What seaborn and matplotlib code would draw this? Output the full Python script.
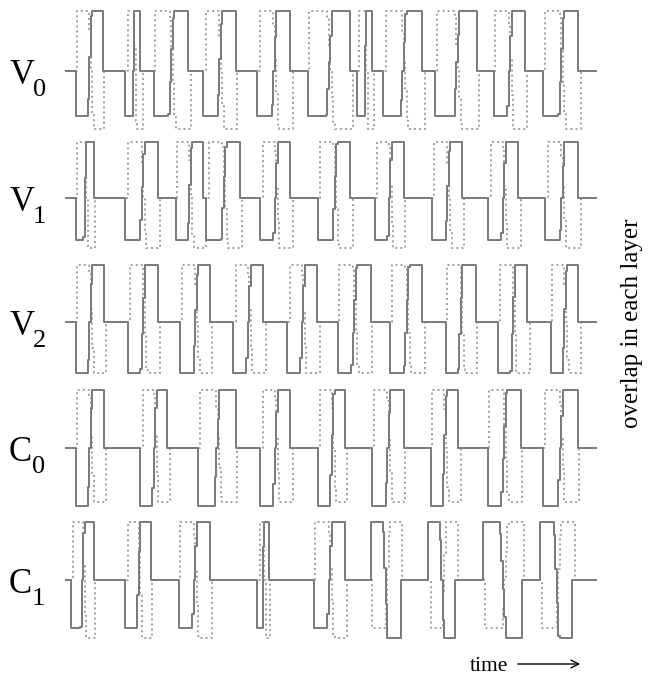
import numpy as np
import pandas as pd
import seaborn as sns
import matplotlib.pyplot as plt

sns.set_theme(style="white")
plt.rcParams["font.family"] = ["Liberation Serif", "DejaVu Serif"]

# ---- data: burst windows (time units) for each layer -------------------
layer_names = ["V", "V", "V", "C", "C"]
layer_index = ["0", "1", "2", "0", "1"]

V0_start = [10, 60, 88, 138, 192, 242, 292, 318, 370, 428, 478]
V0_end = [37, 75, 123, 170, 225, 285, 307, 357, 412, 460, 513]
V0_sign = [1, 1, 1, 1, 1, 1, 1, 1, 1, 1, 1]

V1_start = [10, 60, 110, 141, 195, 253, 310, 367, 423, 480]
V1_end = [28, 92, 138, 175, 225, 285, 338, 397, 453, 513]
V1_sign = [1, 1, 1, 1, 1, 1, 1, 1, 1, 1]

V2_start = [10, 62, 115, 168, 222, 272, 325, 380, 433, 485]
V2_end = [38, 92, 145, 198, 252, 305, 357, 410, 462, 513]
V2_sign = [1, 1, 1, 1, 1, 1, 1, 1, 1, 1]

C0_start = [10, 75, 133, 195, 253, 307, 365, 422, 478]
C0_end = [38, 102, 170, 225, 280, 338, 393, 455, 512]
C0_sign = [1, 1, 1, 1, 1, 1, 1, 1, 1]

C1_start = [5, 60, 113, 192, 248, 305, 363, 418, 475]
C1_end = [28, 85, 145, 203, 280, 335, 390, 457, 507]
C1_sign = [1, 1, 1, 1, 1, -1, -1, -1, -1]

# depth of negative lobes (first lobe, second lobe), top clipped at 1
depth_first = [0.75, 0.75, 0.90, 1.00, 0.83]
depth_second = [0.97, 0.89, 0.90, 0.93, 1.00]

time_end = 532
dotted_shift = 2

starts = [V0_start, V1_start, V2_start, C0_start, C1_start]
ends = [V0_end, V1_end, V2_end, C0_end, C1_end]
signs = [V0_sign, V1_sign, V2_sign, C0_sign, C1_sign]


def burst_trace(t, b_start, b_end, b_sign, shift, d_first, d_second, gain=4.0):
    v = np.zeros_like(t)
    for s, e, sg in zip(b_start, b_end, b_sign):
        s2, e2 = s + shift, e + shift
        m = (t >= s2) & (t < e2)
        u = (t[m] - s2) / (e2 - s2)
        raw = -sg * gain * np.cos(np.pi * u)
        lo = np.where(u < 0.5, -d_first, -d_second)
        v[m] = np.clip(raw, lo, 1.0)
    return v


# ---- layout (pixels) ---------------------------------------------------
W, H = 658, 682
fig = plt.figure(figsize=(W / 100, H / 100), dpi=100)
fig.patch.set_facecolor("white")

x_left, x_right = 65, 597
bases = [71, 198, 322, 448, 580]
amps = [60, 56, 57, 58, 58]

t = np.arange(0, time_end + 1, 1.5)

for i in range(5):
    base, amp = bases[i], amps[i]
    top_px = base - 1.05 * amp
    height_px = 2.1 * amp
    ax = fig.add_axes([x_left / W, 1 - (top_px + height_px) / H,
                       (x_right - x_left) / W, height_px / H])
    solid = burst_trace(t, starts[i], ends[i], signs[i], 0,
                        depth_first[i], depth_second[i])
    dotted = burst_trace(t, starts[i], ends[i], [-s for s in signs[i]],
                         dotted_shift, depth_first[i], depth_second[i])
    df = pd.DataFrame({"time": t, "solid": solid, "dotted": dotted})
    sns.lineplot(data=df, x="time", y="dotted", ax=ax, color="#a0a0a0",
                 linewidth=1.4, linestyle=(0, (1, 1.6)),
                 drawstyle="steps-post", estimator=None, errorbar=None)
    sns.lineplot(data=df, x="time", y="solid", ax=ax, color="#7a7a7a",
                 linewidth=1.4, drawstyle="steps-post",
                 estimator=None, errorbar=None)
    ax.set_xlim(0, time_end)
    ax.set_ylim(-1.05, 1.05)
    ax.axis("off")

    # layer label with subscript
    lx = 10 if layer_names[i] == "V" else 9
    fig.text(lx / W, 1 - (base + 13) / H, layer_names[i], fontsize=25,
             ha="left", va="baseline", color="black")
    fig.text((lx + 23) / W, 1 - (base + 25) / H, layer_index[i], fontsize=19,
             ha="left", va="baseline", color="black")

# right-hand caption
fig.text(632 / W, 1 - 323 / H, "overlap in each layer", rotation=90,
         fontsize=18, ha="center", va="center", color="black")

# time axis hint
fig.text(470 / W, 1 - 671 / H, "time", fontsize=15.5, ha="left",
         va="baseline", color="black")
fig.add_artist(plt.matplotlib.patches.FancyArrowPatch(
    (515 / W, 1 - 664 / H), (583 / W, 1 - 664 / H),
    transform=fig.transFigure, arrowstyle="->", mutation_scale=14,
    color="black", linewidth=1.0))

fig.savefig("out.png", dpi=100, facecolor="white")
